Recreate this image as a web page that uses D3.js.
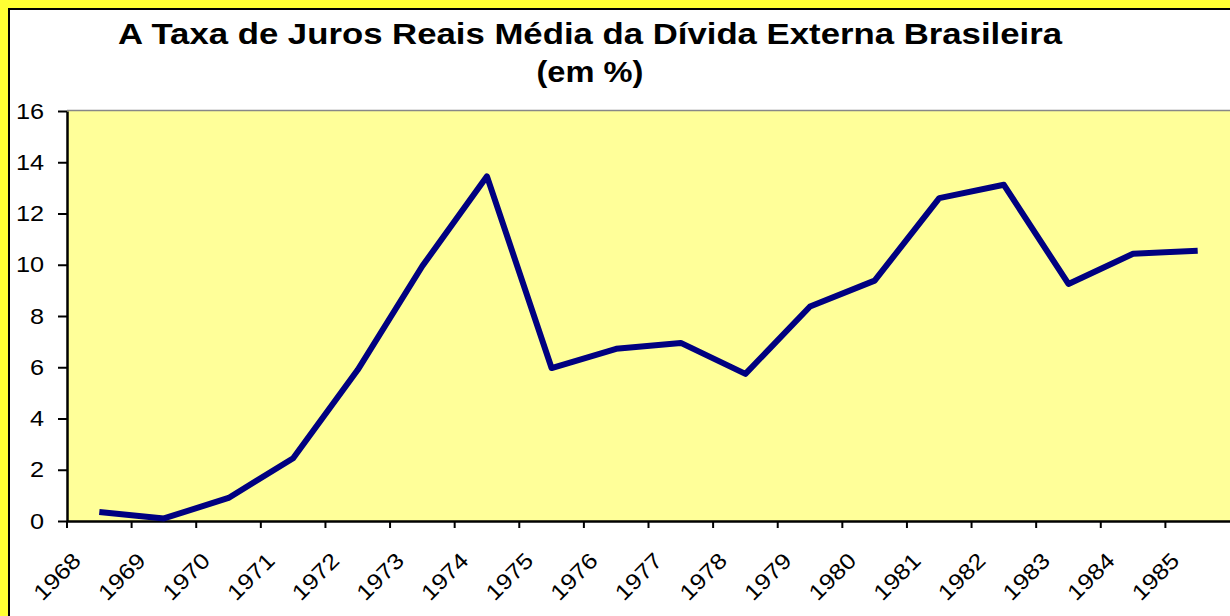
<!DOCTYPE html>
<html>
<head>
<meta charset="utf-8">
<script src="https://cdn.jsdelivr.net/npm/d3@7"></script>
<style>
  body { margin: 0; background: #fff; }
  svg { display: block; font-family: Arial, "Liberation Sans", sans-serif; }
</style>
</head>
<body>
<div class="canvas"></div>
<script>
const years = ["1968", "1969", "1970", "1971", "1972", "1973", "1974", "1975", "1976",
    "1977", "1978", "1979", "1980", "1981", "1982", "1983", "1984", "1985"];
const taxaJuros = [0.35, 0.1, 0.9, 2.45, 5.9, 9.95, 13.45, 5.97, 6.72,
    6.95, 5.74, 8.37, 9.38, 12.6, 13.12, 9.25, 10.43, 10.55];
const yTicks = [0, 2, 4, 6, 8, 10, 12, 14, 16];
const titleLines = ["A Taxa de Juros Reais Média da Dívida Externa Brasileira", "(em %)"];

const width = 1230, height = 616;
const margin = { top: 111, right: 0, bottom: 95, left: 67 };
// the original text is drawn a bit wider than plain Arial
const stretch = 1.15;
const digitLen = n => n * 0.556 * 22 * stretch;

const svg = d3.select(".canvas")
    .append("svg")
    .attr("width", width)
    .attr("height", height);

// outer frame: yellow band with black border
svg.append("rect")
    .attr("width", width).attr("height", height)
    .attr("fill", "#ffff33");
svg.append("rect")
    .attr("x", 9).attr("y", 9)
    .attr("width", width + 20).attr("height", height + 20)
    .attr("fill", "#fff")
    .attr("stroke", "#000")
    .attr("stroke-width", 2);

// title
const titleWidths = [944, 107];
svg.selectAll("text.title")
    .data(titleLines)
    .enter()
    .append("text")
    .attr("class", "title")
    .attr("x", (d, i) => 590 - titleWidths[i] / 2)
    .attr("y", (d, i) => 44 + i * 38)
    .attr("font-weight", "bold")
    .attr("font-size", 29)
    .attr("textLength", (d, i) => titleWidths[i])
    .attr("lengthAdjust", "spacingAndGlyphs")
    .text(d => d);

const graphWidth = 1230 - margin.left;
const graphHeight = 521 - margin.top;

const graph = svg.append("g")
    .attr("transform", `translate(${margin.left}, ${margin.top})`);

graph.append("rect")
    .attr("width", graphWidth + 10)
    .attr("height", graphHeight)
    .attr("fill", "#ffff99");
graph.append("line")
    .attr("x1", 0).attr("x2", graphWidth + 10)
    .attr("y1", -0.5).attr("y2", -0.5)
    .attr("stroke", "#888")
    .attr("stroke-width", 1.5);

const x = d3.scaleBand()
    .domain(years)
    .range([0, graphWidth]);
const y = d3.scaleLinear()
    .domain([0, 16])
    .range([graphHeight, 0]);

const yAxis = d3.axisLeft(y)
    .tickValues(yTicks)
    .tickSize(9)
    .tickSizeOuter(0)
    .tickPadding(14);
const yAxisGroup = graph.append("g").call(yAxis);
yAxisGroup.select(".domain").attr("stroke-width", 2.5);
yAxisGroup.selectAll(".tick line").attr("stroke-width", 2);
yAxisGroup.selectAll("text")
    .attr("font-size", 22)
    .attr("font-family", "Arial, 'Liberation Sans', sans-serif")
    .attr("fill", "#000")
    .attr("textLength", d => digitLen(String(d).length))
    .attr("lengthAdjust", "spacingAndGlyphs");

const xAxis = d3.axisBottom(x)
    .tickSize(7)
    .tickSizeOuter(0);
const xAxisGroup = graph.append("g")
    .attr("transform", `translate(0, ${graphHeight})`)
    .call(xAxis);
xAxisGroup.select(".domain").attr("stroke-width", 2.5);
// ticks sit on the category boundaries
xAxisGroup.selectAll(".tick line")
    .attr("stroke-width", 2)
    .attr("transform", `translate(${-x.bandwidth() / 2}, 0)`);
xAxisGroup.selectAll("text")
    .attr("y", 0).attr("dy", 0)
    .attr("font-size", 22)
    .attr("font-family", "Arial, 'Liberation Sans', sans-serif")
    .attr("fill", "#000")
    .attr("text-anchor", "end")
    .attr("textLength", d => digitLen(d.length))
    .attr("lengthAdjust", "spacingAndGlyphs")
    .attr("transform", "translate(-17, 41) rotate(-45)");

const line = d3.line()
    .x((d, i) => x(years[i]) + x.bandwidth() / 2)
    .y(d => y(d));

graph.append("path")
    .datum(taxaJuros)
    .attr("d", line)
    .attr("fill", "none")
    .attr("stroke", "#000080")
    .attr("stroke-width", 6)
    .attr("stroke-linejoin", "round");
</script>
</body>
</html>
